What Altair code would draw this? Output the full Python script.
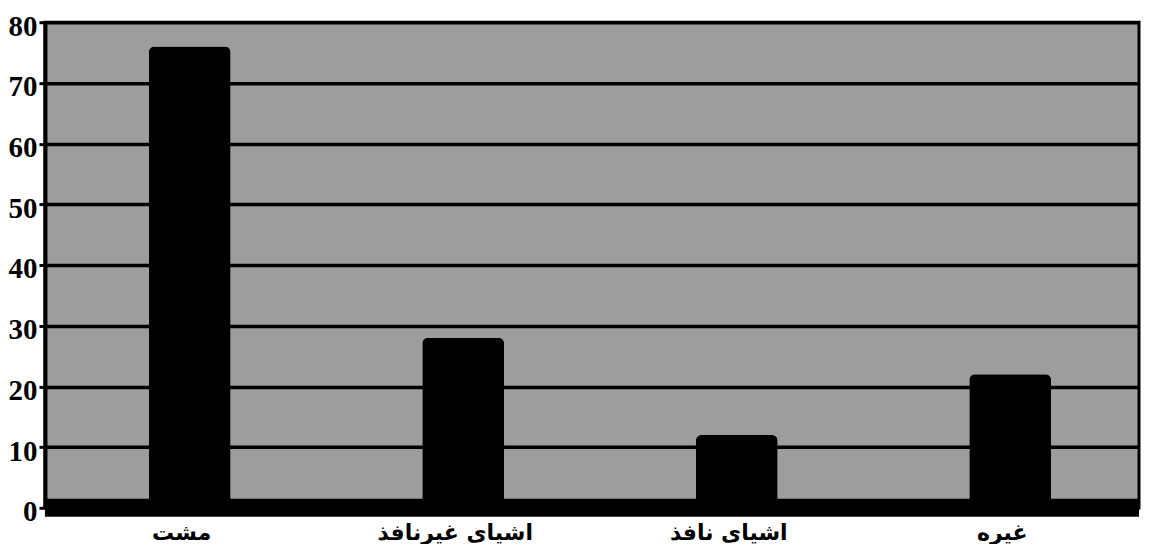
import altair as alt
import pandas as pd

categories = ["مشت", "اشیای غیرنافذ", "اشیای نافذ", "غیره"]
values = [76, 28, 12, 22]
y_ticks = [0, 10, 20, 30, 40, 50, 60, 70, 80]

df = pd.DataFrame({"category": categories, "value": values})

x_enc = alt.X("category:N", sort=categories, title=None,
              axis=alt.Axis(labelAngle=0, labelFont="DejaVu Sans", labelFontWeight="bold",
                            labelFontSize=22, labelColor="black", labelPadding=15,
                            domain=False, ticks=False))
y_scale = alt.Scale(domain=[0, 80], nice=False)

bars = alt.Chart(df).mark_bar(color="black", size=82, xOffset=8,
                              cornerRadiusTopLeft=6, cornerRadiusTopRight=6).encode(
    x=x_enc,
    y=alt.Y("value:Q", scale=y_scale, title=None,
            axis=alt.Axis(values=y_ticks, labelFont="Liberation Serif", labelFontWeight="bold",
                          labelFontSize=29, labelColor="black", domainColor="black", domainWidth=4,
                          tickColor="black", tickWidth=3, tickSize=6, labelPadding=2,
                          labelOffset=4,
                          gridColor="black", gridWidth=3.5, gridOpacity=1)),
)

floor = alt.Chart(pd.DataFrame({"y": [0]})).mark_rule(color="black", strokeWidth=18).encode(
    y=alt.Y("y:Q", scale=y_scale)
)

chart = alt.layer(bars, floor).properties(
    width=1095, height=486, padding={"top": 4, "left": 0, "right": 0, "bottom": 0},
    background="white"
).configure_view(
    fill="#9d9d9d", stroke="black", strokeWidth=3
)

chart.save("out.html", embed_options={"renderer": "svg", "actions": False})
